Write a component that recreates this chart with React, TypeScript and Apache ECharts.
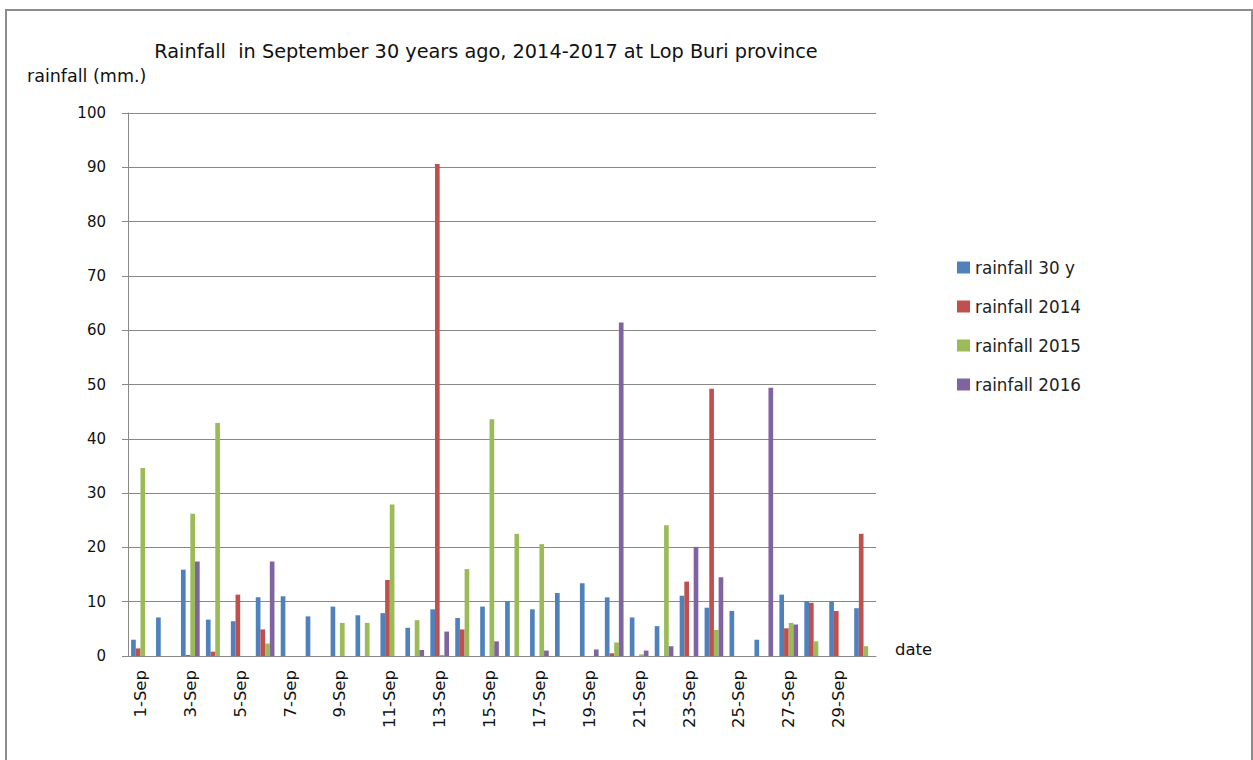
import React, { useEffect, useRef } from "react";
import * as echarts from "echarts";

const days: string[] = Array.from({ length: 30 }, (_, i) => `${i + 1}-Sep`);
const seriesNames = ["rainfall 30 y", "rainfall 2014", "rainfall 2015", "rainfall 2016"];
const rain30y = [3.0, 7.1, 15.9, 6.7, 6.4, 10.8, 11.0, 7.3, 9.1, 7.5, 7.9, 5.2, 8.6, 7.0, 9.1, 10.1, 8.6, 11.6, 13.4, 10.8, 7.1, 5.5, 11.1, 8.9, 8.3, 3.0, 11.3, 10.1, 10.1, 8.8];
const rain2014 = [1.4, 0, 0.2, 0.8, 11.3, 4.9, 0, 0, 0, 0, 14.0, 0, 90.6, 4.9, 0, 0, 0, 0, 0, 0.5, 0, 0, 13.7, 49.2, 0, 0, 5.1, 9.8, 8.3, 22.5];
const rain2015 = [34.6, 0, 26.2, 42.9, 0, 2.3, 0, 0, 6.1, 6.1, 27.9, 6.6, 0.2, 16.0, 43.6, 22.5, 20.6, 0, 0, 2.5, 0.3, 24.1, 0, 4.8, 0, 0, 6.1, 2.7, 0, 1.8];
const rain2016 = [0, 0, 17.4, 0, 0, 17.4, 0, 0, 0, 0, 0, 1.1, 4.5, 0, 2.7, 0, 1.0, 0, 1.2, 61.4, 1.0, 1.8, 20.1, 14.5, 0, 49.4, 5.8, 0, 0, 0];
const colors = ["#4F81BD", "#C0504D", "#9BBB59", "#8064A2"];
const titleText = "Rainfall  in September 30 years ago, 2014-2017 at Lop Buri province";

const FONT = "DejaVu Sans";

export default function App() {
  const ref = useRef<HTMLDivElement>(null);
  useEffect(() => {
    document.body.style.overflow = "hidden";
    const chart = echarts.init(ref.current!, null, { renderer: "svg" });
    const allData = [rain30y, rain2014, rain2015, rain2016];
    chart.setOption({
      animation: false,
      color: colors,
      textStyle: { fontFamily: FONT },
      title: {
        text: titleText,
        left: 481,
        top: 37,
        textAlign: "center",
        textStyle: { fontFamily: FONT, fontSize: 19.3, fontWeight: "normal", color: "#111" },
      },
      legend: {
        orient: "vertical",
        left: 952,
        top: 254,
        itemWidth: 13,
        itemHeight: 12,
        itemGap: 22,
        icon: "rect",
        textStyle: { fontFamily: FONT, fontSize: 16.8, color: "#222", lineHeight: 17 },
        data: seriesNames,
      },
      grid: { left: 128, right: 377, top: 113, height: 543, containLabel: false },
      xAxis: {
        type: "category",
        data: days,
        boundaryGap: true,
        axisLine: { lineStyle: { color: "#888", width: 1 } },
        axisTick: { interval: 1, length: 8, lineStyle: { color: "#888" } },
        axisLabel: { interval: 1, rotate: 90, margin: 14, fontSize: 16.5, color: "#111", fontFamily: FONT },
      },
      yAxis: {
        type: "value",
        min: 0,
        max: 100,
        interval: 10,
        axisLine: { show: true, lineStyle: { color: "#888" } },
        axisTick: { show: true, length: 6, lineStyle: { color: "#888" } },
        axisLabel: { fontSize: 15, color: "#111", margin: 22, fontFamily: FONT },
        splitLine: { lineStyle: { color: "#888", width: 1 } },
      },
      graphic: [
        {
          type: "rect",
          shape: { x: 6, y: 10, width: 1246, height: 800 },
          style: { fill: "none", stroke: "#8c8c8c", lineWidth: 2 },
          silent: true,
        },
        {
          type: "text",
          left: 27,
          top: 67,
          style: { text: "rainfall (mm.)", fontFamily: FONT, fontSize: 17.5, fill: "#111" },
        },
        {
          type: "text",
          left: 895,
          top: 641,
          style: { text: "date", fontFamily: FONT, fontSize: 16.5, fill: "#111" },
        },
      ],
      series: seriesNames.map((name, i) => ({
        name,
        type: "bar",
        data: allData[i],
        barGap: "0%",
        barCategoryGap: "25%",
        itemStyle: { color: colors[i] },
      })),
    });
    return () => chart.dispose();
  }, []);
  return (
    <div
      ref={ref}
      style={{ position: "fixed", left: 0, top: 0, width: 1253, height: 760, background: "#fff" }}
    />
  );
}
